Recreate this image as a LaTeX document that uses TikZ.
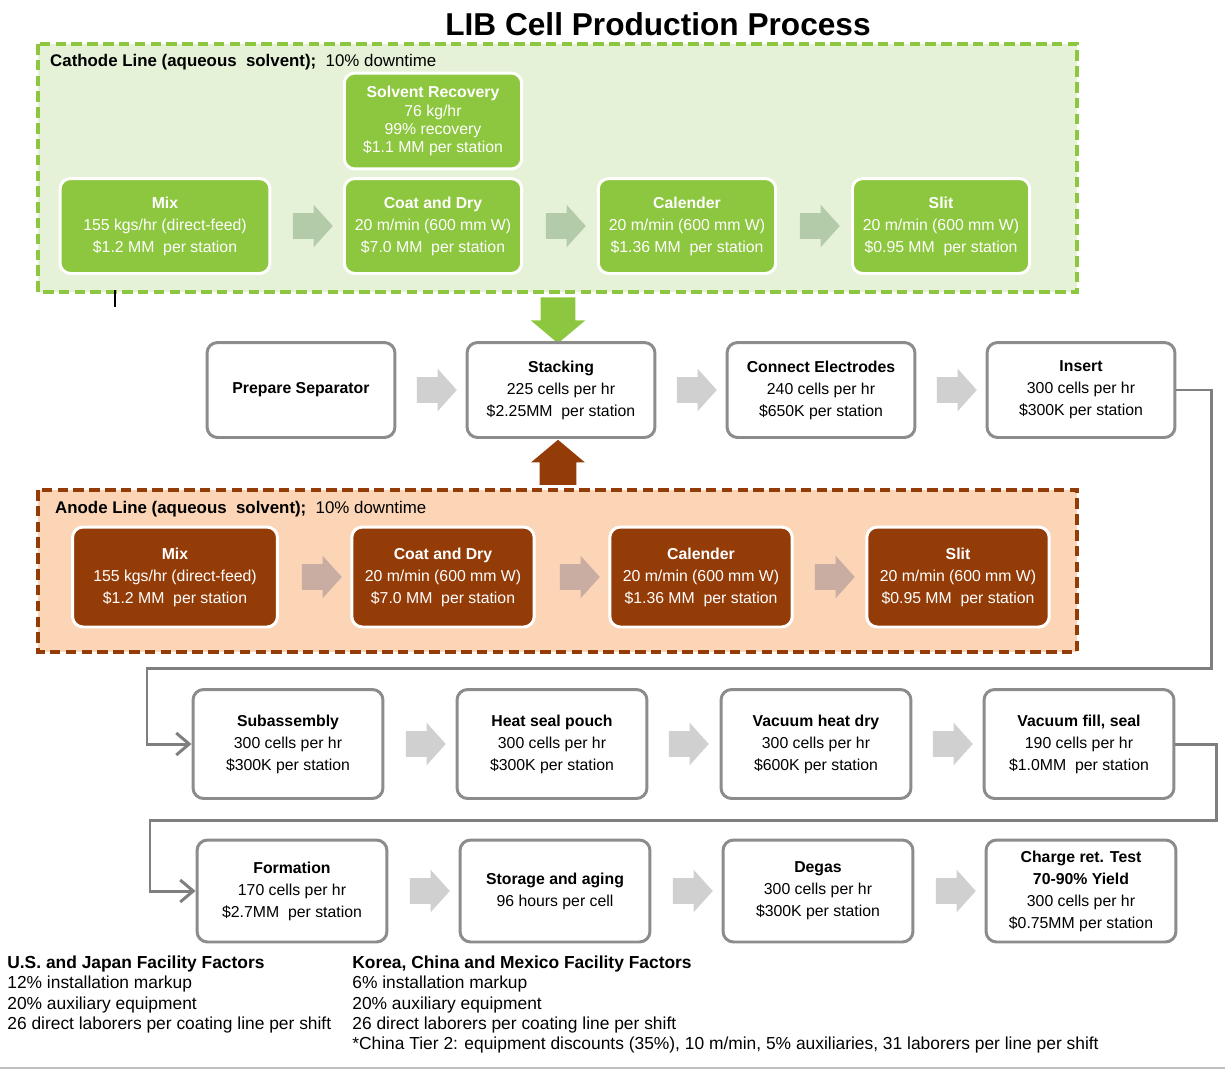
\documentclass[tikz,border=0pt]{standalone}
\usepackage{fontspec}
\setmainfont{Liberation Sans}
\usetikzlibrary{shapes.arrows,arrows.meta}

\definecolor{catgreen}{RGB}{141,198,63}
\definecolor{catfill}{RGB}{230,242,216}
\definecolor{catarrow}{RGB}{180,203,170}
\definecolor{anobrown}{RGB}{148,60,8}
\definecolor{anofill}{RGB}{251,213,181}
\definecolor{anoarrow}{RGB}{201,173,163}
\definecolor{boxgray}{RGB}{140,140,140}
\definecolor{arrowgray}{RGB}{208,208,208}
\definecolor{flowgray}{RGB}{127,127,127}

\tikzset{
  boxtext/.style={font={\fontsize{9pt}{12.5pt}\selectfont}},
  catbox/.style={rectangle, rounded corners=6pt, fill=catgreen, draw=white, line width=1.7pt, text=white, align=center, minimum width=3.55cm, minimum height=1.9cm, boxtext},
  anobox/.style={rectangle, rounded corners=6pt, fill=anobrown, draw=white, line width=1.7pt, text=white, align=center, minimum width=3.65cm, minimum height=2cm, boxtext},
  stepbox/.style={rectangle, rounded corners=6pt, fill=white, draw=boxgray, line width=1.7pt, align=center, minimum width=3.76cm, minimum height=1.9cm, boxtext},
  blockarrow/.style={single arrow, draw=none, inner xsep=0pt, inner ysep=0.25cm, minimum height=0.8cm, single arrow head extend=0.17cm, single arrow tip angle=96},
  linebox/.style={line width=2pt, dash pattern=on 6pt off 3pt},
  flow/.style={draw=flowgray, line width=1.7pt, -{Straight Barb[length=2.6mm, width=4.4mm]}},
  headtext/.style={anchor=west, font={\fontsize{9.6pt}{12pt}\selectfont}},
  foottext/.style={anchor=north west, align=left, inner sep=0pt, font={\fontsize{9.9pt}{11.4pt}\selectfont}}
}

\begin{document}
\begin{tikzpicture}[x=0.02cm, y=-0.02cm]

\useasboundingbox (0,0) rectangle (1225,1072);

\node[font={\fontsize{18pt}{20pt}\selectfont\bfseries}] (title) at (658,24) {LIB Cell Production Process};

\draw[linebox, draw=catgreen, fill=catfill] (38,44) rectangle (1077,292);
\node[headtext] (cathead) at (44,62) {\textbf{Cathode Line (aqueous\ \ solvent);}\ \ 10\% downtime};

\node[catbox, font={\fontsize{9pt}{10.3pt}\selectfont}, minimum height=1.92cm] (csolv) at (433,121) {\textbf{Solvent Recovery}\\76 kg/hr\\99\% recovery\\\$1.1 MM per station};
\node[catbox, minimum width=4.2cm] (cmix) at (165,226) {\textbf{Mix}\\155 kgs/hr (direct-feed)\\\$1.2 MM\ \ per station};
\node[catbox] (ccoat) at (433,226) {\textbf{Coat and Dry}\\20 m/min (600 mm W)\\\$7.0 MM\ \ per station};
\node[catbox] (ccal) at (687,226) {\textbf{Calender}\\20 m/min (600 mm W)\\\$1.36 MM\ \ per station};
\node[catbox] (cslit) at (941,226) {\textbf{Slit}\\20 m/min (600 mm W)\\\$0.95 MM\ \ per station};

\node[blockarrow, fill=catarrow] (ca1) at (307,226) {};
\node[blockarrow, fill=catarrow] (ca2) at (560,226) {};
\node[blockarrow, fill=catarrow] (ca3) at (814,226) {};

\draw[black, line width=0.8pt] (115,290) -- (115,307);

\node[blockarrow, fill=catgreen, shape border rotate=270, inner xsep=0.34cm, inner ysep=0pt, minimum height=0.92cm, single arrow head extend=0.2cm, single arrow tip angle=100] (catdown) at (558,313) {};

\node[stepbox] (prep) at (301,390) {\textbf{Prepare Separator}};
\node[stepbox] (stack) at (561,390) {\textbf{Stacking}\\225 cells per hr\\\$2.25MM\ \ per station};
\node[stepbox] (conn) at (821,390) {\textbf{Connect Electrodes}\\240 cells per hr\\\$650K per station};
\node[stepbox] (insert) at (1081,390) {\textbf{Insert}\\300 cells per hr\\\$300K per station};

\node[blockarrow, fill=arrowgray] (ra1) at (431,390) {};
\node[blockarrow, fill=arrowgray] (ra2) at (691,390) {};
\node[blockarrow, fill=arrowgray] (ra3) at (951,390) {};

\node[blockarrow, fill=anobrown, shape border rotate=90, inner xsep=0.36cm, inner ysep=0pt, minimum height=0.9cm, single arrow head extend=0.17cm, single arrow tip angle=100] (anoup) at (558,470) {};

\draw[linebox, draw=anobrown, fill=anofill] (38,490) rectangle (1077,652);
\node[headtext] (anohead) at (49,509) {\textbf{Anode Line (aqueous\ \ solvent);}\ \ 10\% downtime};

\node[anobox, minimum width=4.1cm] (amix) at (175,577) {\textbf{Mix}\\155 kgs/hr (direct-feed)\\\$1.2 MM\ \ per station};
\node[anobox] (acoat) at (443,577) {\textbf{Coat and Dry}\\20 m/min (600 mm W)\\\$7.0 MM\ \ per station};
\node[anobox] (acal) at (701,577) {\textbf{Calender}\\20 m/min (600 mm W)\\\$1.36 MM\ \ per station};
\node[anobox] (aslit) at (958,577) {\textbf{Slit}\\20 m/min (600 mm W)\\\$0.95 MM\ \ per station};

\node[blockarrow, fill=anoarrow] (aa1) at (316,577) {};
\node[blockarrow, fill=anoarrow] (aa2) at (574,577) {};
\node[blockarrow, fill=anoarrow] (aa3) at (829,577) {};

\node[stepbox, minimum width=3.8cm, minimum height=2.18cm] (sub) at (288,744) {\textbf{Subassembly}\\300 cells per hr\\\$300K per station};
\node[stepbox, minimum width=3.8cm, minimum height=2.18cm] (heat) at (552,744) {\textbf{Heat seal pouch}\\300 cells per hr\\\$300K per station};
\node[stepbox, minimum width=3.8cm, minimum height=2.18cm] (vdry) at (816,744) {\textbf{Vacuum heat dry}\\300 cells per hr\\\$600K per station};
\node[stepbox, minimum width=3.8cm, minimum height=2.18cm] (vfill) at (1079,744) {\textbf{Vacuum fill,\ seal}\\190 cells per hr\\\$1.0MM\ \ per station};

\node[blockarrow, fill=arrowgray] (sa1) at (420,744) {};
\node[blockarrow, fill=arrowgray] (sa2) at (683,744) {};
\node[blockarrow, fill=arrowgray] (sa3) at (947,744) {};

\node[stepbox, minimum width=3.8cm, minimum height=2.04cm] (form) at (292,891) {\textbf{Formation}\\170 cells per hr\\\$2.7MM\ \ per station};
\node[stepbox, minimum width=3.8cm, minimum height=2.04cm] (store) at (555,891) {\textbf{Storage and aging}\\96 hours per cell};
\node[stepbox, minimum width=3.8cm, minimum height=2.04cm] (degas) at (818,891) {\textbf{Degas}\\300 cells per hr\\\$300K per station};
\node[stepbox, minimum width=3.8cm, minimum height=2.04cm] (charge) at (1081,891) {\textbf{Charge ret. Test}\\\textbf{70-90\% Yield}\\300 cells per hr\\\$0.75MM per station};

\node[blockarrow, fill=arrowgray] (fa1) at (424,891) {};
\node[blockarrow, fill=arrowgray] (fa2) at (687,891) {};
\node[blockarrow, fill=arrowgray] (fa3) at (950,891) {};

\draw[flow] (insert.east) -| (1211,668) -| (147,744) -- (sub.west);
\draw[flow] (vfill.east) -| (1216,820) -| (150,891) -- (form.west);

\node[foottext] (usfac) at (7,956) {\textbf{U.S. and Japan Facility Factors}\\12\% installation markup\\20\% auxiliary equipment\\26 direct laborers per coating line per shift};
\node[foottext] (kofac) at (352,956) {\textbf{Korea, China and Mexico Facility Factors}\\6\% installation markup\\20\% auxiliary equipment\\26 direct laborers per coating line per shift\\*China Tier 2: equipment discounts (35\%), 10 m/min, 5\% auxiliaries, 31 laborers per line per shift};

\draw[gray!50, line width=0.8pt] (0,1068) -- (1225,1068);

\end{tikzpicture}
\end{document}
